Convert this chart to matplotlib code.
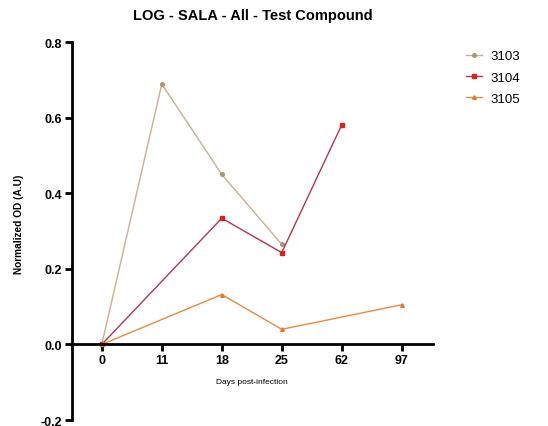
import matplotlib
matplotlib.use("Agg")
import matplotlib.pyplot as plt
import numpy as np

days = ["0", "11", "18", "25", "62", "97"]

# OD readings per animal; None where no sample was taken
od_3103 = [0.0, 0.689, 0.450, 0.265, None, None]
od_3104 = [0.0, None, 0.334, 0.243, 0.581, None]
od_3105 = [0.0, None, 0.132, 0.040, None, 0.105]

series = [
    ("3103", od_3103, "#cbb08a", "#a89a6c", "o"),
    ("3104", od_3104, "#b3364e", "#e0201e", "s"),
    ("3105", od_3105, "#e98a40", "#e07a2a", "^"),
]

fig = plt.figure(figsize=(5.48, 4.27), dpi=100)
ax = fig.add_axes([0.131, 0.014, 0.659, 0.885])

for name, vals, line_col, mark_col, marker in series:
    idx = [i for i, v in enumerate(vals) if v is not None]
    ys = [vals[i] for i in idx]
    ax.plot(idx, ys, color=line_col, lw=1.0, marker=marker, ms=2.6,
            mfc=mark_col, mec=mark_col, label=name)

ax.set_xlim(-0.5, 5.52)
ax.set_ylim(-0.2, 0.8)
ax.set_xticks(range(len(days)))
ax.set_xticklabels(days)
ax.set_yticks(np.arange(-0.2, 0.81, 0.2))
ax.set_yticklabels(["-0.2", "0.0", "0.2", "0.4", "0.6", "0.8"])

# x axis drawn through zero
ax.spines["bottom"].set_position(("data", 0))
ax.spines["top"].set_visible(False)
ax.spines["right"].set_visible(False)
for s in ("left", "bottom"):
    ax.spines[s].set_linewidth(2)
ax.tick_params(axis="both", direction="out", length=5, width=2, pad=2)
for lab in ax.get_xticklabels() + ax.get_yticklabels():
    lab.set_fontweight("bold")
    lab.set_fontsize(9)
    lab.set_family("Liberation Sans")

ax.set_xlabel("Days post-infection", fontsize=6, family="Liberation Sans")
ax.xaxis.set_label_coords(0.5, 0.112)
ax.set_ylabel("Normalized OD (A.U)", fontsize=7.3, fontweight="bold",
              family="Liberation Sans")
ax.yaxis.set_label_coords(-0.132, 0.52)

ax.set_title("LOG - SALA - All - Test Compound", fontsize=10.5,
             fontweight="bold", family="Liberation Sans", pad=17)

ax.legend(loc="upper left", bbox_to_anchor=(1.06, 1.01), frameon=False,
          prop={"family": "Liberation Sans", "size": 9.5}, handlelength=1.2,
          handletextpad=0.6, labelspacing=0.68)

fig.savefig("out.png", dpi=100)
